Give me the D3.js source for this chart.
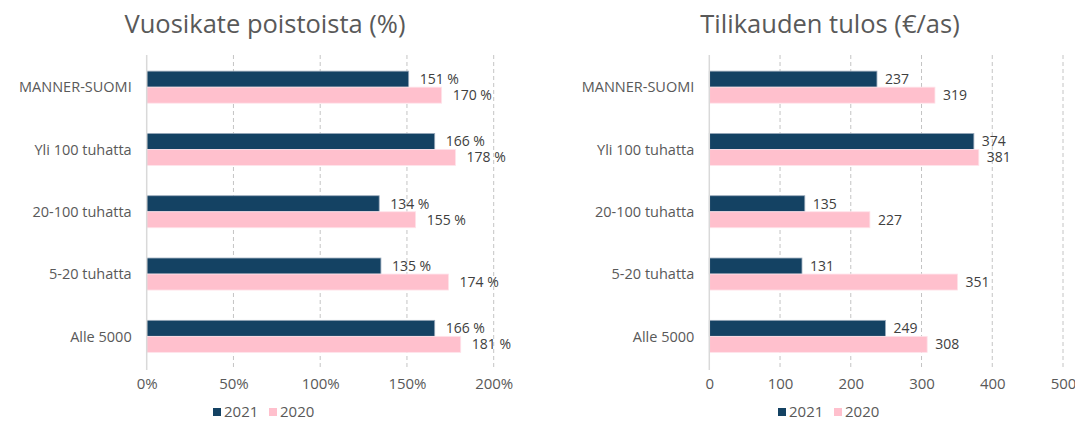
<!DOCTYPE html>
<html>
<head>
<meta charset="utf-8">
<script src="https://cdn.jsdelivr.net/npm/d3@7"></script>
<style>
  body { margin: 0; background: #fff; }
  svg text { font-family: "Open Sans", "DejaVu Sans", sans-serif; }
</style>
</head>
<body>
<div id="chart"></div>
<script>
// categories and series
var categories = ["MANNER-SUOMI", "Yli 100 tuhatta", "20-100 tuhatta", "5-20 tuhatta", "Alle 5000"];
var seriesNames = ["2021", "2020"];

var vuosikate2021 = [151, 166, 134, 135, 166];
var vuosikate2020 = [170, 178, 155, 174, 181];
var pctTicks = [0, 50, 100, 150, 200];

var tulos2021 = [237, 374, 135, 131, 249];
var tulos2020 = [319, 381, 227, 351, 308];
var eurTicks = [0, 100, 200, 300, 400, 500];

var colors = ["#144263", "#ffc0cd"];

var svgWidth = 1075;
var svgHeight = 421;

var svg = d3.select("#chart")
  .append("svg")
  .attr("width", svgWidth)
  .attr("height", svgHeight);

function drawPanel(opts) {
  var g = svg.append("g");

  var x = d3.scaleLinear()
    .domain([0, opts.max])
    .range([opts.left, opts.right]);

  var y = d3.scaleBand()
    .domain(categories)
    .range([56, 367.5])
    .paddingInner(0.486)
    .paddingOuter(0.243);

  var ySub = d3.scaleBand()
    .domain(seriesNames)
    .range([0, y.bandwidth()]);

  // title (centred over the whole panel, not just the plot)
  g.append("text")
    .attr("x", opts.center)
    .attr("y", 33)
    .attr("text-anchor", "middle")
    .style("font-size", "25.5px")
    .style("fill", "#595959")
    .text(opts.title);

  // dashed gridlines
  g.selectAll(".grid")
    .data(opts.ticks.filter(d => d > 0))
    .enter()
    .append("line")
    .attr("x1", d => x(d))
    .attr("x2", d => x(d))
    .attr("y1", 55)
    .attr("y2", 370)
    .attr("stroke", "#c4c4c4")
    .attr("stroke-width", 1)
    .attr("stroke-dasharray", "4,3");

  // x axis tick labels
  var xAxis = d3.axisBottom(x)
    .tickValues(opts.ticks)
    .tickSize(0)
    .tickPadding(0)
    .tickFormat(opts.tickFormat);

  var ax = g.append("g")
    .attr("transform", "translate(0, 378)")
    .call(xAxis);
  ax.select(".domain").remove();
  ax.selectAll("text")
    .style("font-size", "15px")
    .style("fill", "#595959")
    .attr("dy", "0.71em");

  // bars
  var rows = categories.map(function(c, i) {
    return { cat: c, values: [opts.a[i], opts.b[i]] };
  });

  var groups = g.selectAll(".row")
    .data(rows)
    .enter()
    .append("g")
    .attr("transform", d => `translate(0, ${y(d.cat)})`);

  groups.selectAll("rect")
    .data(d => d.values.map((v, k) => ({ key: seriesNames[k], v: v, k: k })))
    .enter()
    .append("rect")
    .attr("x", x(0))
    .attr("y", d => ySub(d.key))
    .attr("width", d => x(d.v) - x(0))
    .attr("height", ySub.bandwidth())
    .attr("fill", d => colors[d.k])
    .attr("stroke", d => d.k == 0 ? "#9aaabb" : "#ffe3ea")
    .attr("stroke-width", 0.8);

  groups.selectAll(".val")
    .data(d => d.values.map((v, k) => ({ key: seriesNames[k], v: v })))
    .enter()
    .append("text")
    .attr("x", d => x(d.v) + opts.labelGap)
    .attr("y", d => ySub(d.key) + ySub.bandwidth() / 2)
    .attr("dy", "0.36em")
    .style("font-size", "14px")
    .style("fill", "#404040")
    .text(d => opts.valueFormat(d.v));

  // zero line
  g.append("line")
    .attr("x1", x(0))
    .attr("x2", x(0))
    .attr("y1", 55)
    .attr("y2", 370)
    .attr("stroke", "#d9d9d9")
    .attr("stroke-width", 1.5);

  // category labels
  g.selectAll(".cat")
    .data(categories)
    .enter()
    .append("text")
    .attr("x", x(0) - 15)
    .attr("y", d => y(d) + y.bandwidth() / 2)
    .attr("dy", "0.36em")
    .attr("text-anchor", "end")
    .style("font-size", "14.5px")
    .style("fill", "#595959")
    .text(d => d);

  // legend
  var legend = g.append("g")
    .attr("transform", `translate(${opts.center - 52}, 412)`);
  var item = legend.selectAll("g")
    .data(seriesNames)
    .enter()
    .append("g")
    .attr("transform", (d, i) => `translate(${i * 56}, 0)`);
  item.append("rect")
    .attr("x", 0)
    .attr("y", -4)
    .attr("width", 8)
    .attr("height", 8)
    .attr("fill", (d, i) => colors[i]);
  item.append("text")
    .attr("x", 11)
    .attr("y", 0)
    .attr("dy", "0.36em")
    .style("font-size", "15px")
    .style("fill", "#595959")
    .text(d => d);
}

drawPanel({
  title: "Vuosikate poistoista (%)",
  center: 265,
  left: 146.7, right: 493.7, max: 200,
  ticks: pctTicks,
  tickFormat: d => d + "%",
  valueFormat: d => d + " %",
  labelGap: 11,
  a: vuosikate2021, b: vuosikate2020
});

drawPanel({
  title: "Tilikauden tulos (€/as)",
  center: 830,
  left: 709.3, right: 1063, max: 500,
  ticks: eurTicks,
  tickFormat: d => d,
  valueFormat: d => d,
  labelGap: 8,
  a: tulos2021, b: tulos2020
});
</script>
</body>
</html>
